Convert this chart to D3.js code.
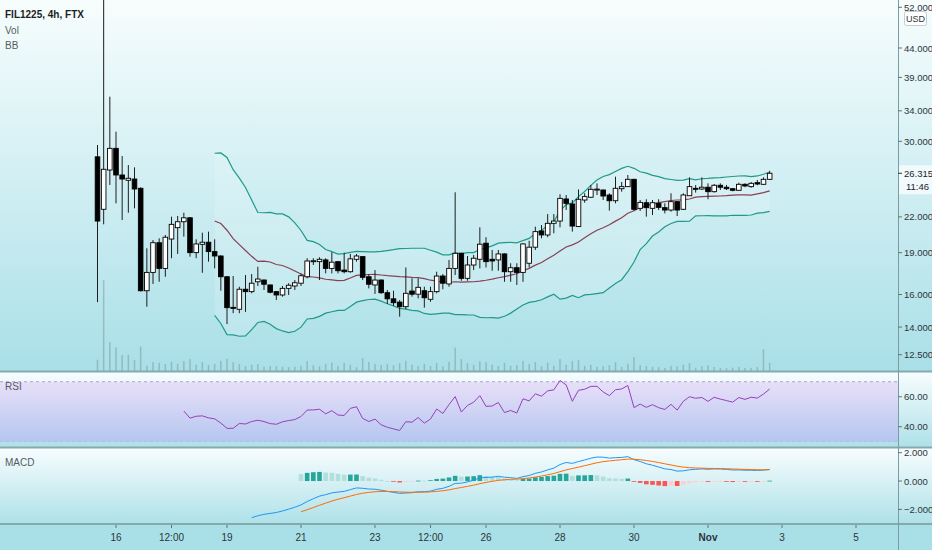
<!DOCTYPE html>
<html>
<head>
<meta charset="utf-8">
<script src="https://cdn.jsdelivr.net/npm/d3@7"></script>
<style>
  html, body { margin: 0; padding: 0; background: #fff; }
  svg { display: block; font-family: "Liberation Sans Narrow", "Liberation Sans", Arial, sans-serif; }
</style>
</head>
<body>
<div id="chart"></div>
<script>
// FIL1225 4h candles from FTX, first bar 15 Oct 12:00 UTC, one bar every 4 hours
var firstBar = "2020-10-15T12:00:00Z";

var open = [28.15,22.70,26.67,29.15,26.13,25.57,25.70,24.74,16.25,17.52,
  19.79,17.81,20.09,21.05,21.57,21.92,19.00,19.66,19.83,19.08,
  18.74,17.21,15.18,15.06,16.35,16.19,16.86,16.98,16.64,16.19,
  15.97,16.41,16.57,16.76,17.21,18.36,18.31,18.44,17.81,18.31,
  17.69,17.57,18.49,18.69,17.21,16.64,16.98,16.12,15.72,15.51,
  15.22,16.23,16.02,16.25,15.69,16.19,17.26,16.71,17.81,18.95,
  17.10,18.06,18.49,19.75,18.49,18.44,18.90,17.57,17.86,17.52,
  18.19,19.43,20.77,20.43,21.43,21.63,23.68,23.20,21.15,23.58,
  23.85,24.64,24.57,24.07,23.51,24.70,24.91,25.67,22.79,23.32,
  22.79,23.26,22.85,22.63,23.42,22.70,24.00,24.74,24.67,24.85,
  24.40,25.05,24.85,24.70,24.54,25.15,24.91,25.32,25.15,25.67];

var high = [29.55,56.00,36.03,31.21,28.24,27.22,26.96,24.85,19.34,20.01,
  20.15,20.43,22.02,22.08,22.38,21.98,20.07,20.62,20.71,20.07,
  18.80,17.25,17.26,16.52,17.33,17.40,17.93,17.02,16.66,16.21,
  16.57,16.76,16.98,17.45,18.57,18.57,18.64,18.57,19.03,18.33,
  19.00,18.90,18.90,18.72,17.40,17.69,17.02,16.30,16.25,15.64,
  17.88,17.10,17.10,16.52,16.52,17.57,17.40,18.44,24.34,19.00,
  18.74,18.82,21.08,20.24,19.21,19.21,18.95,18.19,18.19,19.75,
  19.95,21.13,21.28,22.26,22.26,24.14,24.07,23.58,24.62,24.24,
  25.08,25.25,24.62,24.24,25.95,25.39,26.13,25.72,23.58,23.65,
  23.58,23.65,23.26,24.24,23.45,24.24,25.88,25.08,25.88,25.25,
  25.18,25.25,25.08,24.74,25.32,25.25,25.39,25.60,25.88,26.58];

var low = [15.51,21.34,25.08,23.26,21.72,22.38,22.79,16.20,15.22,16.71,
  16.86,17.21,18.57,18.90,20.29,18.69,18.57,17.49,18.31,17.81,
  16.25,14.17,14.82,14.82,14.90,16.08,16.57,16.30,16.08,15.64,
  15.86,15.97,16.30,16.57,17.10,18.06,16.98,17.45,17.45,17.45,
  17.45,17.50,18.31,16.98,16.41,16.04,16.04,15.39,15.27,14.61,
  15.06,15.86,15.75,15.16,15.53,16.08,16.35,16.52,17.33,16.93,
  16.93,17.69,17.81,17.88,17.64,17.64,16.86,16.86,16.64,16.86,
  17.88,19.21,20.15,20.24,20.57,21.08,22.63,20.71,21.10,23.32,
  23.78,24.07,23.58,22.57,23.26,24.40,24.88,22.57,22.54,22.02,
  22.17,22.63,22.32,22.48,22.08,22.63,23.97,24.31,24.57,23.65,
  24.31,24.57,24.57,24.44,24.50,24.85,24.80,25.05,25.08,25.60];

var close = [21.63,26.75,29.15,26.13,25.70,25.78,24.67,16.25,17.52,19.79,
  17.81,20.24,21.34,21.57,21.92,19.00,19.69,19.83,19.08,18.74,
  17.21,15.16,15.16,16.35,16.19,16.76,17.05,16.69,16.15,15.97,
  16.41,16.62,16.79,17.28,18.36,18.38,18.49,17.81,18.27,17.64,
  17.57,18.52,18.74,17.17,16.69,16.98,16.12,15.72,15.47,15.22,
  16.08,16.02,16.48,15.79,16.19,17.26,16.76,17.81,18.95,17.10,
  18.06,18.57,19.67,18.31,18.36,18.90,17.57,17.86,17.52,19.69,
  19.43,20.71,20.43,21.43,21.63,23.74,23.26,21.19,23.65,23.91,
  24.64,24.66,23.97,23.51,24.74,24.91,25.67,22.70,23.35,22.85,
  23.32,22.88,22.63,23.42,22.63,24.07,24.91,24.72,24.85,24.40,
  25.05,24.85,24.70,24.54,25.15,24.98,25.25,25.18,25.67,26.315];

var volume = [112,905,288,236,158,161,109,243,52,88,
  81,69,92,71,98,118,63,87,60,72,
  101,122,88,69,49,61,70,42,50,48,
  41,39,43,52,99,58,47,71,83,50,
  79,62,38,128,90,71,60,68,58,79,
  102,61,49,72,51,80,47,91,232,118,
  79,60,97,88,61,49,81,52,58,101,
  69,90,48,82,51,119,62,98,109,50,
  61,42,48,59,88,39,71,139,60,50,
  41,38,30,52,48,62,79,31,47,58,
  40,31,29,33,41,30,32,39,218,82];

var priceTicks = [52, 44, 39, 34, 30, 22, 19, 16, 14, 12.5];
var rsiTicks = [60, 40];
var macdTicks = [2, 0, -2];
var dateTicks = [
  ["2020-10-16T00:00:00Z", "16"], ["2020-10-17T12:00:00Z", "12:00"],
  ["2020-10-19T00:00:00Z", "19"], ["2020-10-21T00:00:00Z", "21"],
  ["2020-10-23T00:00:00Z", "23"], ["2020-10-24T12:00:00Z", "12:00"],
  ["2020-10-26T00:00:00Z", "26"], ["2020-10-28T00:00:00Z", "28"],
  ["2020-10-30T00:00:00Z", "30"], ["2020-11-01T00:00:00Z", "Nov"],
  ["2020-11-03T00:00:00Z", "3"], ["2020-11-05T00:00:00Z", "5"]];
var lastLabel = "26.315", countdown = "11:46";

var W = 932, H = 550, axisX = 898, bodyW = 4.6;

var t0 = new Date(firstBar).getTime();
var bars = close.map(function(c, i) {
  return {t: new Date(t0 + i * 4 * 3600 * 1000), o: open[i], h: high[i], l: low[i], c: c, v: volume[i]};
});

// ---- indicators (BB 20/2, RSI 14, MACD 12/26/9) from the closes ----
function ema(src, n) {
  var out = src.map(function() { return null; });
  var first = src.findIndex(function(v) { return v != null; });
  var seed = first + n - 1, k = 2 / (n + 1);
  out[seed] = d3.mean(src.slice(first, seed + 1));
  for (var i = seed + 1; i < src.length; i++) out[i] = src[i] * k + out[i - 1] * (1 - k);
  return out;
}
var bb = [];
for (var i = 19; i < close.length; i++) {
  var win = close.slice(i - 19, i + 1), m = d3.mean(win);
  var sd = Math.sqrt(d3.mean(win, function(v) { return (v - m) * (v - m); }));
  bb.push({t: bars[i].t, mid: m, up: m + 2 * sd, lo: m - 2 * sd});
}
var rsi = [], ag = 0, al = 0;
for (i = 1; i < close.length; i++) {
  var dlt = close[i] - close[i - 1], g = Math.max(dlt, 0), l = Math.max(-dlt, 0);
  if (i <= 14) { ag += g / 14; al += l / 14; }
  else { ag = (ag * 13 + g) / 14; al = (al * 13 + l) / 14; }
  if (i >= 14) rsi.push({t: bars[i].t, v: 100 - 100 / (1 + ag / al)});
}
var e12 = ema(close, 12), e26 = ema(close, 26);
var macdArr = close.map(function(c, i) { return e26[i] == null ? null : e12[i] - e26[i]; });
var sigArr = ema(macdArr, 9);
var macd = [], hist = [];
macdArr.forEach(function(v, i) {
  if (v == null) return;
  macd.push({t: bars[i].t, m: v, s: sigArr[i]});
  if (sigArr[i] != null) hist.push({t: bars[i].t, h: v - sigArr[i]});
});
hist.forEach(function(d, i) {
  var prev = i > 0 ? hist[i - 1].h : null;
  var grow = prev != null && prev < d.h;
  d.col = d.h >= 0 ? (grow ? "#26a69a" : "#b2dfdb") : (grow ? "#ffcdd2" : "#ff5252");
});

// ---- scales ----
var x = d3.scaleUtc()
  .domain([new Date("2020-10-16T00:00:00Z"), new Date("2020-11-05T00:00:00Z")])
  .range([116, 856]);
var y = d3.scaleLog().domain([11.69, 53.58]).range([371, 0]);
var yVol = d3.scaleLinear().domain([0, d3.max(volume)]).range([371, 280]);
var yRsi = d3.scaleLinear().domain([26.5, 76.5]).range([447, 372]);
var yMacd = d3.scaleLinear().domain([-3.03, 2.33]).range([524, 448]);

var svg = d3.select("#chart").append("svg").attr("width", W).attr("height", H);
var defs = svg.append("defs");
function grad(id, stops) {
  var lg = defs.append("linearGradient").attr("id", id).attr("x1", 0).attr("y1", 0).attr("x2", 0).attr("y2", 1);
  stops.forEach(function(s) { lg.append("stop").attr("offset", s[0]).attr("stop-color", s[1]); });
}
grad("gMain", [[0, "#f7fdfd"], [0.45, "#d4f0f4"], [1, "#a9dfe7"]]);
grad("gSub", [[0, "#f8fdfe"], [1, "#aee1e9"]]);
grad("gBand", [[0, "#e8dff9"], [1, "#b5c6ef"]]);
defs.append("clipPath").attr("id", "clipMain").append("rect").attr("x", 0).attr("y", 0).attr("width", axisX).attr("height", 371);

// backgrounds
svg.append("rect").attr("x", 0).attr("y", 0).attr("width", W).attr("height", 371).attr("fill", "url(#gMain)");
svg.append("rect").attr("x", 0).attr("y", 372).attr("width", W).attr("height", 75).attr("fill", "url(#gSub)");
svg.append("rect").attr("x", 0).attr("y", 448).attr("width", W).attr("height", 76).attr("fill", "url(#gSub)");
svg.append("rect").attr("x", 0).attr("y", 524).attr("width", W).attr("height", 26).attr("fill", "#a9e0e8");

// ---- main pane ----
var gMain = svg.append("g").attr("clip-path", "url(#clipMain)");

gMain.selectAll(".vol").data(bars).join("rect").attr("class", "vol")
  .attr("x", function(d) { return x(d.t) - 0.75; })
  .attr("y", function(d) { return yVol(d.v); })
  .attr("width", 1.5)
  .attr("height", function(d) { return 371 - yVol(d.v); })
  .attr("fill", "rgba(95,110,118,0.33)");

gMain.append("path").datum(bb)
  .attr("d", d3.area().x(function(d) { return x(d.t); }).y0(function(d) { return y(d.lo); }).y1(function(d) { return y(d.up); }))
  .attr("fill", "rgba(255,255,255,0.16)");
[["up", "#1f9a88"], ["lo", "#1f9a88"], ["mid", "#8a3f54"]].forEach(function(s) {
  gMain.append("path").datum(bb)
    .attr("d", d3.line().x(function(d) { return x(d.t); }).y(function(d) { return y(d[s[0]]); }))
    .attr("fill", "none").attr("stroke", s[1]).attr("stroke-width", 1.2);
});

gMain.selectAll(".wick").data(bars).join("line").attr("class", "wick")
  .attr("x1", function(d) { return x(d.t); }).attr("x2", function(d) { return x(d.t); })
  .attr("y1", function(d) { return y(d.h); }).attr("y2", function(d) { return y(d.l); })
  .attr("stroke", "#1e1e1e").attr("stroke-width", 1);
gMain.selectAll(".body").data(bars).join("rect").attr("class", "body")
  .attr("x", function(d) { return x(d.t) - bodyW / 2; })
  .attr("y", function(d) { return y(Math.max(d.o, d.c)); })
  .attr("width", bodyW)
  .attr("height", function(d) { return Math.max(1, Math.abs(y(d.o) - y(d.c))); })
  .attr("fill", function(d) { return d.c >= d.o ? "#ffffff" : "#000000"; })
  .attr("stroke", "#000").attr("stroke-width", 0.9);

// ---- RSI pane ----
svg.append("rect").attr("x", 0).attr("y", yRsi(70)).attr("width", axisX)
  .attr("height", yRsi(30) - yRsi(70)).attr("fill", "url(#gBand)");
[70, 30].forEach(function(v) {
  svg.append("line").attr("x1", 0).attr("x2", axisX).attr("y1", yRsi(v)).attr("y2", yRsi(v))
    .attr("stroke", "#aaa3cf").attr("stroke-width", 1).attr("stroke-dasharray", "3,3")
    .attr("opacity", v === 70 ? 1 : 0.4);
});
svg.append("path").datum(rsi)
  .attr("d", d3.line().x(function(d) { return x(d.t); }).y(function(d) { return yRsi(d.v); }))
  .attr("fill", "none").attr("stroke", "#9442b8").attr("stroke-width", 1);

// ---- MACD pane ----
svg.selectAll(".hist").data(hist).join("rect").attr("class", "hist")
  .attr("x", function(d) { return x(d.t) - bodyW / 2; })
  .attr("y", function(d) { return Math.min(yMacd(0), yMacd(d.h)); })
  .attr("width", bodyW)
  .attr("height", function(d) { return Math.max(0.8, Math.abs(yMacd(d.h) - yMacd(0))); })
  .attr("fill", function(d) { return d.col; });
svg.append("path").datum(macd)
  .attr("d", d3.line().x(function(d) { return x(d.t); }).y(function(d) { return yMacd(d.m); }))
  .attr("fill", "none").attr("stroke", "#2196f3").attr("stroke-width", 1);
svg.append("path").datum(macd.filter(function(d) { return d.s != null; }))
  .attr("d", d3.line().x(function(d) { return x(d.t); }).y(function(d) { return yMacd(d.s); }))
  .attr("fill", "none").attr("stroke", "#ff6d00").attr("stroke-width", 1);

// ---- separators and axis line ----
[371.5, 447.5, 524].forEach(function(yy) {
  svg.append("line").attr("x1", 0).attr("x2", W).attr("y1", yy).attr("y2", yy)
    .attr("stroke", "#86a9af").attr("stroke-width", 2);
});
svg.append("line").attr("x1", axisX + 0.5).attr("x2", axisX + 0.5).attr("y1", 0).attr("y2", H)
  .attr("stroke", "#7d9ca2").attr("stroke-width", 1);

// ---- right axes ----
var fmt3 = d3.format(".3f"), fmt2 = d3.format(".2f");
function rightAxis(ticks, scale, fmt) {
  var g = svg.append("g");
  ticks.forEach(function(v) {
    var yy = scale(v);
    g.append("line").attr("x1", axisX).attr("x2", axisX + 4).attr("y1", yy).attr("y2", yy)
      .attr("stroke", "#5d7479").attr("stroke-width", 1);
    g.append("text").attr("x", axisX + 6).attr("y", yy + 3.5).attr("font-size", 9.5)
      .attr("fill", "#2e3438").text(fmt(v).replace("-", "\u2212"));
  });
}
rightAxis(priceTicks, y, fmt3);
rightAxis(rsiTicks, yRsi, fmt2);
rightAxis(macdTicks, yMacd, fmt3);

// USD box (sits just under the top price label)
svg.append("rect").attr("x", 904.5).attr("y", 11.5).attr("width", 22).attr("height", 14).attr("rx", 2)
  .attr("fill", "#ffffff").attr("stroke", "#c3ccd0");
svg.append("text").attr("x", 915.5).attr("y", 21.5).attr("text-anchor", "middle").attr("font-size", 9)
  .attr("fill", "#2e3438").text("USD");

// last price label
var yLast = y(close[close.length - 1]);
svg.append("rect").attr("x", axisX + 1).attr("y", yLast - 8).attr("width", W - axisX - 1).attr("height", 29)
  .attr("fill", "rgba(255,255,255,0.7)");
svg.append("line").attr("x1", axisX).attr("x2", axisX + 4).attr("y1", yLast).attr("y2", yLast)
  .attr("stroke", "#2e3438");
svg.append("text").attr("x", axisX + 6).attr("y", yLast + 3.5).attr("font-size", 9.5)
  .attr("fill", "#1e2428").text(lastLabel);
svg.append("text").attr("x", axisX + 8).attr("y", yLast + 17).attr("font-size", 9.5)
  .attr("fill", "#1e2428").text(countdown);

// ---- time axis ----
dateTicks.forEach(function(d) {
  var xx = x(new Date(d[0]));
  svg.append("line").attr("x1", xx).attr("x2", xx).attr("y1", 525).attr("y2", 528)
    .attr("stroke", "#5d7479");
  svg.append("text").attr("x", xx).attr("y", 541).attr("text-anchor", "middle").attr("font-size", 10)
    .attr("font-weight", d[1] === "Nov" ? "bold" : "normal")
    .attr("fill", "#2e3438").text(d[1]);
});

// ---- pane legends ----
svg.append("text").attr("x", 5).attr("y", 18).attr("font-size", 10).attr("font-weight", "bold")
  .attr("fill", "#1b1f24").text("FIL1225, 4h, FTX");
svg.append("text").attr("x", 5).attr("y", 34).attr("font-size", 10).attr("fill", "#555b60").text("Vol");
svg.append("text").attr("x", 5).attr("y", 49).attr("font-size", 10).attr("fill", "#555b60").text("BB");
svg.append("text").attr("x", 5).attr("y", 390).attr("font-size", 10).attr("fill", "#555b60").text("RSI");
svg.append("text").attr("x", 5).attr("y", 466).attr("font-size", 10).attr("fill", "#555b60").text("MACD");
</script>
</body>
</html>
